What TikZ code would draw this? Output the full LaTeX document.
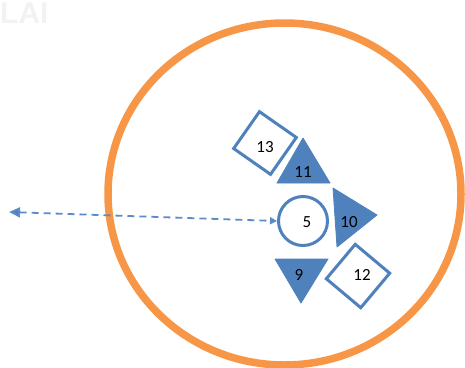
\documentclass[tikz,border=0pt]{standalone}
\usepackage{fontspec}
\setmainfont{Carlito}
\newfontfamily\laifont{Liberation Sans}
\usetikzlibrary{arrows.meta}
\definecolor{orng}{HTML}{F79646}
\definecolor{blu}{HTML}{4F81BD}
\definecolor{dashblu}{HTML}{5B8BCB}
\tikzset{
  lbl/.style={font=\fontsize{17}{18}\selectfont, text=black, inner sep=0pt},
  sqbox/.style={draw=blu, line width=3pt, fill=white, minimum size=45pt, inner sep=0pt},
  tri/.style={fill=blu, draw=blu, line width=0.8pt, line join=round},
  ring/.style={draw=blu, line width=3pt, fill=white, circle, minimum size=49pt, inner sep=0pt},
  link/.style={draw=dashblu, line width=1.8pt, dash pattern=on 7pt off 5pt,
    arrows={Triangle[length=11pt,width=10pt,fill=blu]-Triangle[length=7pt,width=7pt,fill=blu]}}
}
\begin{document}
\begin{tikzpicture}[x=1pt,y=-1pt]
\useasboundingbox (0,0) rectangle (465,367);
\node[font=\laifont\bfseries\fontsize{30}{30}\selectfont, text=black!5, inner sep=0pt, anchor=north west] (lai) at (0,3) {LAI};
% orange ellipse
\draw[orng, line width=7.5pt] (284.5,194) ellipse [x radius=176.5, y radius=171];
% circle 5
\node[ring] (c5) at (303,221) {};
\node[lbl] (l5) at (307,222) {5};
% triangles
\fill[tri] (303,138) -- (277,183) -- (330,183) -- cycle;
\node[lbl] (l11) at (303,172) {11};
\fill[tri] (333,188) -- (337,247) -- (377,215) -- cycle;
\node[lbl] (l10) at (349,222) {10};
\fill[tri] (275,259) -- (328,259) -- (301,303) -- cycle;
\node[lbl] (l9) at (299,275) {9};
% diamonds
\node[sqbox, rotate=-35] (d13) at (265,143) {};
\node[lbl] (l13) at (265,147) {13};
\node[sqbox, rotate=-40] (d12) at (358,276) {};
\node[lbl] (l12) at (362,275) {12};
% dashed arrow
\coordinate (tipL) at (9,212);
\draw[link] (tipL) -- (c5.west);
\end{tikzpicture}
\end{document}
